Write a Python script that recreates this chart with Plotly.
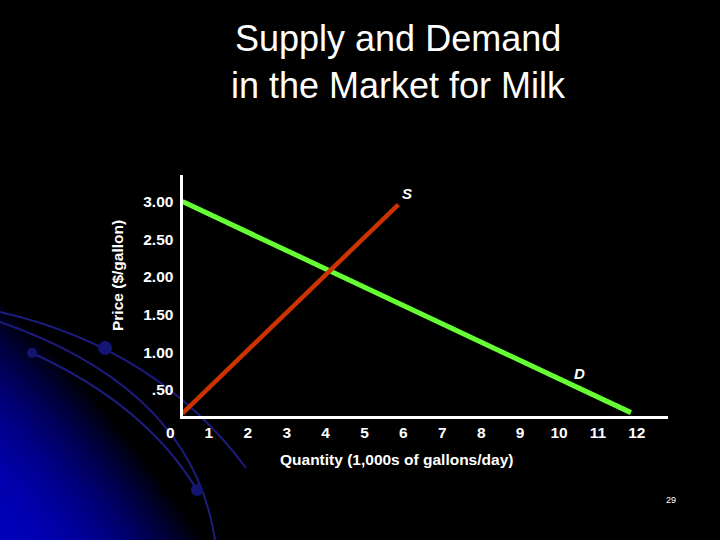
import plotly.graph_objects as go

# ---- data ----
demand_q = [0.32, 11.85]
demand_p = [3.00, 0.20]
supply_q = [0.32, 5.87]
supply_p = [0.19, 2.96]

x_ticks = [1, 2, 3, 4, 5, 6, 7, 8, 9, 10, 11, 12]
y_ticks = [0.5, 1.0, 1.5, 2.0, 2.5, 3.0]
y_tick_text = [".50", "1.00", "1.50", "2.00", "2.50", "3.00"]

title_lines = ["Supply and Demand", "in the Market for Milk"]
x_title = "Quantity (1,000s of gallons/day)"
y_title = "Price ($/gallon)"

W, H = 720, 540
FONT = "Liberation Sans, Arial, sans-serif"


def px(X):
    return X / W


def py(Y):
    return 1 - Y / H


fig = go.Figure()

fig.add_trace(go.Scatter(x=demand_q, y=demand_p, mode="lines",
                         line=dict(color="#66ff33", width=5),
                         hoverinfo="skip", showlegend=False))
fig.add_trace(go.Scatter(x=supply_q, y=supply_p, mode="lines",
                         line=dict(color="#cc3300", width=4.5),
                         hoverinfo="skip", showlegend=False))

# ---- background decoration (blue glow + arcs) ----
shapes = []
N = 45
a_ext, b_ext = 205, 245
for k in range(N):
    t = 1 - k / N
    inten = int(round(185 * (1 - t * t)))
    ax_, by_ = a_ext * t, b_ext * t
    c = 0.56
    path = (f"M {px(0)},{py(540)} L {px(ax_)},{py(540)} "
            f"Q {px(c * ax_)},{py(540 - c * by_)} {px(0)},{py(540 - by_)} Z")
    shapes.append(dict(type="path", path=path, xref="paper", yref="paper",
                       fillcolor=f"rgb(0,0,{inten})", line=dict(width=0),
                       layer="below"))


def qarc(p0, mid, p2):
    cx = 2 * mid[0] - 0.5 * (p0[0] + p2[0])
    cy = 2 * mid[1] - 0.5 * (p0[1] + p2[1])
    return (f"M {px(p0[0])},{py(p0[1])} Q {px(cx)},{py(cy)} "
            f"{px(p2[0])},{py(p2[1])}")


arc_color = "rgb(28,28,128)"
for p0, mid, p2 in [((0, 312), (140, 369), (246, 468)),
                    ((0, 322), (150, 410), (215, 540)),
                    ((32, 353), (130, 413), (197, 490))]:
    shapes.append(dict(type="path", path=qarc(p0, mid, p2), xref="paper",
                       yref="paper", line=dict(color=arc_color, width=2),
                       layer="below"))

for (cx, cy, r) in [(105, 348, 7), (32, 353, 5), (197, 490, 6)]:
    shapes.append(dict(type="circle", xref="paper", yref="paper",
                       x0=px(cx - r), x1=px(cx + r), y0=py(cy + r), y1=py(cy - r),
                       fillcolor="rgb(20,20,115)", line=dict(width=0),
                       layer="below"))

# ---- text ----
ann = []
ann.append(dict(text=title_lines[0], x=px(398), y=py(39), xref="paper", yref="paper",
                showarrow=False, xanchor="center", yanchor="middle",
                font=dict(family=FONT, size=36, color="white")))
ann.append(dict(text=title_lines[1], x=px(398), y=py(85), xref="paper", yref="paper",
                showarrow=False, xanchor="center", yanchor="middle",
                font=dict(family=FONT, size=36, color="white")))
ann.append(dict(text=x_title, x=px(396), y=py(459), xref="paper", yref="paper",
                showarrow=False, xanchor="center", yanchor="middle",
                font=dict(family=FONT, size=15.5, color="white", weight="bold")))
ann.append(dict(text=y_title, x=px(117), y=py(276), xref="paper", yref="paper",
                showarrow=False, xanchor="center", yanchor="middle", textangle=-90,
                font=dict(family=FONT, size=15.5, color="white", weight="bold")))
ann.append(dict(text="0", x=px(170), y=py(432.5), xref="paper", yref="paper",
                showarrow=False, xanchor="center", yanchor="middle",
                font=dict(family=FONT, size=15.5, color="white", weight="bold")))
ann.append(dict(text="<i>S</i>", x=px(407), y=py(193), xref="paper", yref="paper",
                showarrow=False, xanchor="center", yanchor="middle",
                font=dict(family=FONT, size=15, color="white", weight="bold")))
ann.append(dict(text="<i>D</i>", x=px(579), y=py(373), xref="paper", yref="paper",
                showarrow=False, xanchor="center", yanchor="middle",
                font=dict(family=FONT, size=15, color="white", weight="bold")))
ann.append(dict(text="29", x=px(671), y=py(500), xref="paper", yref="paper",
                showarrow=False, xanchor="center", yanchor="middle",
                font=dict(family=FONT, size=9, color="white")))

# ---- axes geometry ----
left_px, right_px, top_px, bottom_px = 182.5, 668, 175, 416
x0_px, x_scale = 170.0, 38.9
y0_px, y_scale = 427.7, 75.4

fig.update_layout(
    width=W, height=H,
    margin=dict(l=0, r=0, t=0, b=0),
    paper_bgcolor="black",
    plot_bgcolor="rgba(0,0,0,0)",
    showlegend=False,
    hovermode=False,
    shapes=shapes,
    annotations=ann,
    xaxis=dict(domain=[px(left_px), px(right_px)],
               range=[(left_px - x0_px) / x_scale, (right_px - x0_px) / x_scale],
               showgrid=False, zeroline=False, showline=True,
               linecolor="white", linewidth=3, ticks="",
               tickvals=x_ticks, ticklabelstandoff=0,
               tickfont=dict(family=FONT, size=15.5, color="white", weight="bold")),
    yaxis=dict(domain=[py(bottom_px), py(top_px)],
               range=[(y0_px - bottom_px) / y_scale, (y0_px - top_px) / y_scale],
               showgrid=False, zeroline=False, showline=True,
               linecolor="white", linewidth=3, ticks="",
               tickvals=y_ticks, ticktext=y_tick_text, ticklabelstandoff=3,
               tickfont=dict(family=FONT, size=15.5, color="white", weight="bold")),
)

fig.write_html("out.html",
               config={"displayModeBar": False, "staticPlot": True},
               post_script="document.body.style.margin='0';"
                           "document.body.style.background='black';")
